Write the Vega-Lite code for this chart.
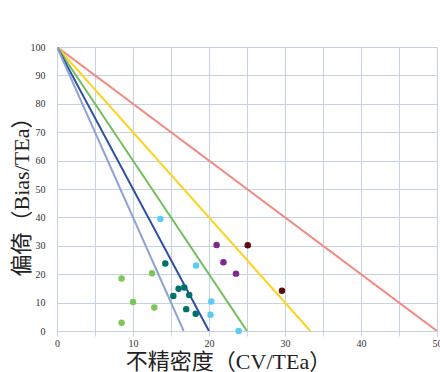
{
  "$schema": "https://vega.github.io/schema/vega-lite/v6.json",
  "width": 380,
  "height": 284,
  "autosize": {"type": "none"},
  "padding": {"left": 57, "top": 47, "right": 3, "bottom": 41},
  "background": "white",
  "config": {
    "view": {"stroke": null},
    "axis": {
      "labelFont": "Liberation Serif",
      "labelFontSize": 10,
      "labelColor": "#333333",
      "labelOverlap": false,
      "labelFlush": false,
      "gridColor": "#c5d3e4",
      "gridWidth": 1,
      "gridOpacity": 1,
      "domainColor": "#c5d3e4",
      "tickColor": "#c5d3e4",
      "titleFont": "Liberation Serif, Noto Sans CJK SC",
      "titleFontSize": 22,
      "titleFontWeight": "normal",
      "titleColor": "#222222"
    }
  },
  "datasets": {
    "lines": [
      {"sigma": "2σ", "x": 0, "y": 100}, {"sigma": "2σ", "x": 50, "y": 0},
      {"sigma": "3σ", "x": 0, "y": 100}, {"sigma": "3σ", "x": 33.33, "y": 0},
      {"sigma": "4σ", "x": 0, "y": 100}, {"sigma": "4σ", "x": 25, "y": 0},
      {"sigma": "5σ", "x": 0, "y": 100}, {"sigma": "5σ", "x": 20, "y": 0},
      {"sigma": "6σ", "x": 0, "y": 100}, {"sigma": "6σ", "x": 16.67, "y": 0}
    ],
    "points": [
      {"group": "A", "x": 8.5, "y": 18.5},
      {"group": "A", "x": 10.0, "y": 10.2},
      {"group": "A", "x": 8.5, "y": 2.9},
      {"group": "A", "x": 12.5, "y": 20.3},
      {"group": "A", "x": 12.8, "y": 8.3},
      {"group": "B", "x": 14.25, "y": 23.8},
      {"group": "B", "x": 16.0, "y": 14.9},
      {"group": "B", "x": 16.75, "y": 15.3},
      {"group": "B", "x": 15.3, "y": 12.3},
      {"group": "B", "x": 17.4, "y": 12.7},
      {"group": "B", "x": 17.0, "y": 7.7},
      {"group": "B", "x": 18.25, "y": 6.1},
      {"group": "C", "x": 13.6, "y": 39.4},
      {"group": "C", "x": 18.3, "y": 23.1},
      {"group": "C", "x": 20.3, "y": 10.4},
      {"group": "C", "x": 20.2, "y": 5.75},
      {"group": "C", "x": 23.9, "y": 0},
      {"group": "D", "x": 21.0, "y": 30.3},
      {"group": "D", "x": 21.9, "y": 24.2},
      {"group": "D", "x": 23.55, "y": 20.2},
      {"group": "E", "x": 25.1, "y": 30.2},
      {"group": "E", "x": 29.6, "y": 14.2}
    ]
  },
  "encoding": {
    "x": {
      "field": "x", "type": "quantitative",
      "scale": {"domain": [0, 50], "nice": false, "zero": true},
      "axis": {
        "title": "不精密度（CV/TEa）",
        "values": [0, 5, 10, 15, 20, 25, 30, 35, 40, 45, 50],
        "labelExpr": "datum.value % 10 == 0 ? datum.label : ''",
        "tickSize": 5,
        "labelPadding": 2,
        "titleX": 171,
        "titleY": 37,
        "titleAlign": "center",
        "titleBaseline": "alphabetic"
      }
    },
    "y": {
      "field": "y", "type": "quantitative",
      "scale": {"domain": [0, 100], "nice": false},
      "axis": {
        "title": "偏倚（Bias/TEa）",
        "values": [0, 10, 20, 30, 40, 50, 60, 70, 80, 90, 100],
        "ticks": false,
        "labelPadding": 12,
        "titleFontSize": 22,
        "titleAngle": -90,
        "titleX": -29,
        "titleY": 144,
        "titleAlign": "center",
        "titleBaseline": "alphabetic"
      }
    }
  },
  "layer": [
    {
      "data": {"name": "lines"},
      "mark": {"type": "line", "strokeWidth": 2, "clip": true},
      "encoding": {
        "color": {
          "field": "sigma", "type": "nominal",
          "scale": {
            "domain": ["2σ", "3σ", "4σ", "5σ", "6σ"],
            "range": ["#f28a82", "#ffd21f", "#72bf5e", "#2c4fa3", "#8ea2d3"]
          },
          "legend": null
        },
        "detail": {"field": "sigma"}
      }
    },
    {
      "data": {"name": "points"},
      "mark": {"type": "circle", "size": 42, "opacity": 1},
      "encoding": {
        "fill": {
          "field": "group", "type": "nominal",
          "scale": {
            "domain": ["A", "B", "C", "D", "E"],
            "range": ["#7cc756", "#00706a", "#5ccbef", "#7a2b8c", "#5c0d0d"]
          },
          "legend": null
        }
      }
    }
  ],
  "resolve": {"scale": {"color": "independent"}}
}
